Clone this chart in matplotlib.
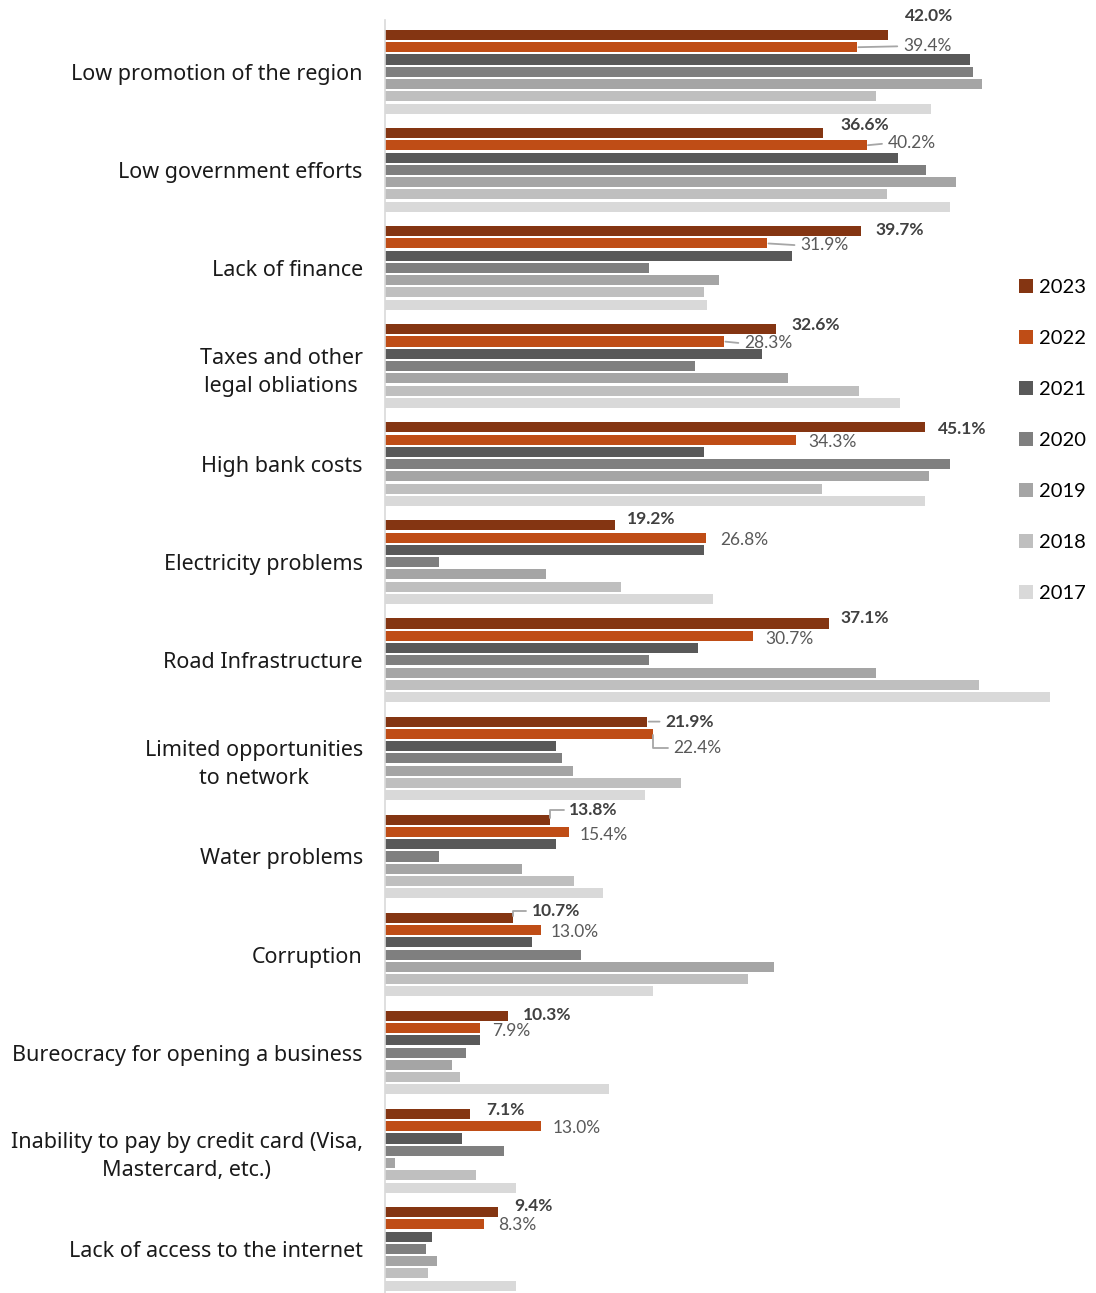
import matplotlib
matplotlib.use("Agg")
import matplotlib.pyplot as plt
from matplotlib.patches import Patch

# Survey data: share of respondents naming each obstacle (%)
categories = [
    "Low promotion of the region",
    "Low government efforts",
    "Lack of finance",
    "Taxes and other\nlegal obliations",
    "High bank costs",
    "Electricity problems",
    "Road Infrastructure",
    "Limited opportunities\nto network",
    "Water problems",
    "Corruption",
    "Bureocracy for opening a business",
    "Inability to pay by credit card (Visa,\nMastercard, etc.)",
    "Lack of access to the internet",
]
years = ["2023", "2022", "2021", "2020", "2019", "2018", "2017"]

v2023 = [42.0, 36.6, 39.7, 32.6, 45.1, 19.2, 37.1, 21.9, 13.8, 10.7, 10.3, 7.1, 9.4]
v2022 = [39.4, 40.2, 31.9, 28.3, 34.3, 26.8, 30.7, 22.4, 15.4, 13.0, 7.9, 13.0, 8.3]
v2021 = [48.8, 42.8, 34.0, 31.5, 26.6, 26.6, 26.1, 14.3, 14.3, 12.3, 7.9, 6.4, 3.9]
v2020 = [49.1, 45.2, 22.0, 25.9, 47.2, 4.5, 22.0, 14.8, 4.5, 16.4, 6.8, 9.9, 3.4]
v2019 = [49.8, 47.7, 27.9, 33.6, 45.4, 13.4, 41.0, 15.7, 11.4, 32.5, 5.6, 0.8, 4.3]
v2018 = [41.0, 41.9, 26.6, 39.6, 36.5, 19.7, 49.6, 24.7, 15.8, 30.3, 6.25, 7.6, 3.6]
v2017 = [45.6, 47.2, 26.9, 43.0, 45.1, 27.4, 55.5, 21.7, 18.2, 22.4, 18.7, 10.9, 10.9]

series = [v2023, v2022, v2021, v2020, v2019, v2018, v2017]
colors = ["#843512", "#BF4D16", "#595959", "#7F7F7F", "#A5A5A5", "#BFBFBF", "#D9D9D9"]

# Label placement (offset in pixels of the text centre from the bar end)
# and leader-line style for the two labelled series
off_2023 = [(41, 19), (41, 8), (39, 1), (40, 4), (37, -2), (36, 6), (35, 6),
            (42, 0), (43, 10), (43, 7), (39, 1), (35, 4), (36, 6)]
off_2022 = [(70, 1), (45, 2), (57, -2), (44, -2), (37, -2), (38, -2), (37, -3),
            (44, -14), (34, -3), (34, -2), (32, -3), (36, -2), (33, -1)]
lead_2023 = [None, None, None, None, None, None, None,
             "straight", "elbow", "elbow", None, None, None]
lead_2022 = ["straight", "straight", "straight", "straight", None, None, None,
             "elbow", None, None, None, None, None]

W, H = 1096, 1293
fig = plt.figure(figsize=(W / 100, H / 100), dpi=100)
ax = fig.add_axes([385 / W, 0, (1060 - 385) / W, (H - 20) / H])

pitch = len(years) + 1
for j, (vals, col) in enumerate(zip(series, colors)):
    ys = [i * pitch + j for i in range(len(categories))]
    ax.barh(ys, vals, height=0.82, color=col, label=years[j], zorder=2)

ax.set_xlim(0, 675 / 11.98)
ax.set_ylim(102.6, -1.22)

for s in ["top", "right", "bottom"]:
    ax.spines[s].set_visible(False)
ax.spines["left"].set_color("#D9D9D9")
ax.spines["left"].set_linewidth(1.2)
ax.set_xticks([])
ax.set_yticks([i * pitch + 3 for i in range(len(categories))])
ax.set_yticklabels(categories, fontsize=15.5, family="Noto Sans",
                   color="#1a1a1a", multialignment="center", linespacing=1.45)
ax.tick_params(axis="y", length=0, pad=16)


def label(val, y, off, lead, bold):
    dx, dy = off
    kw = {}
    if lead == "straight":
        kw["arrowprops"] = dict(arrowstyle="-", color="#A6A6A6", lw=1.3,
                                shrinkA=2, shrinkB=1, relpos=(0, 0.5))
    elif lead == "elbow":
        kw["arrowprops"] = dict(arrowstyle="-", color="#A6A6A6", lw=1.3,
                                shrinkA=2, shrinkB=1, relpos=(0, 0.5),
                                connectionstyle="angle,angleA=0,angleB=90,rad=0")
    ax.annotate(f"{val:.1f}%", xy=(val, y), xytext=(dx, dy),
                textcoords="offset pixels", ha="center", va="center",
                fontsize=12.5, family="Lato",
                fontweight="bold" if bold else "normal",
                color="#404040" if bold else "#595959", **kw)


for i in range(len(categories)):
    label(v2023[i], i * pitch + 0, off_2023[i], lead_2023[i], True)
    label(v2022[i], i * pitch + 1, off_2022[i], lead_2022[i], False)

handles = [Patch(facecolor=c, edgecolor="none") for c in colors]
fig.legend(handles, years, loc="upper left", bbox_to_anchor=(1003 / W, 1 - 263 / H),
           frameon=False, handlelength=0.7, handleheight=0.7, handletextpad=0.3,
           borderpad=0.3, labelspacing=1.68, prop={"family": "Lato", "size": 14.5})

fig.savefig("out.png", dpi=100)
